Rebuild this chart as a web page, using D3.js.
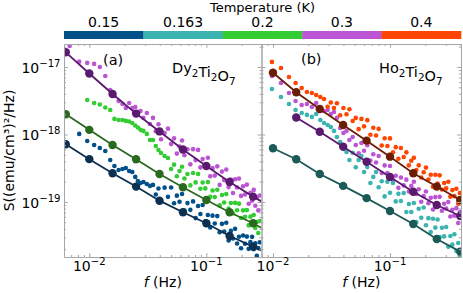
<!DOCTYPE html>
<html>
<head>
<meta charset="utf-8">
<script src="https://cdn.jsdelivr.net/npm/d3@7"></script>
<style>
  body { margin: 0; background: #fff; }
  svg { display: block; }
  text { font-family: "DejaVu Sans", sans-serif; fill: #000; }
</style>
</head>
<body>
<div class="container"></div>
<script>
// temperatures and colours of the colour bar
const temps = ["0.15", "0.163", "0.2", "0.3", "0.4"];
const tempColors = ["#01508a", "#3bb4b1", "#33cc33", "#bb55d3", "#ff4500"];
const fitColors = ["#0d3050", "#1b5a57", "#2a6a1f", "#5a1a6e", "#6b1d05"];

// S values below are in units of 1e-19 (emu/cm^3)^2/Hz
const UNIT = 1e-19;

// (a) Dy2Ti2O7 - measured spectra, f in Hz
const freqA = [0.0068, 0.0082, 0.0096, 0.011, 0.0123, 0.0137, 0.0151, 0.0164, 0.0178, 0.0192,
  0.0205, 0.0219, 0.0233, 0.0247, 0.026, 0.0274, 0.029, 0.031, 0.033, 0.035,
  0.037, 0.039, 0.041, 0.044, 0.047, 0.05, 0.053, 0.056, 0.059, 0.062,
  0.065, 0.069, 0.073, 0.077, 0.081, 0.085, 0.089, 0.093, 0.098, 0.103,
  0.108, 0.113, 0.118, 0.124, 0.13, 0.136, 0.142, 0.148, 0.155, 0.162,
  0.169, 0.176, 0.183, 0.19, 0.198, 0.206, 0.214, 0.222, 0.23, 0.238,
  0.246, 0.254, 0.262, 0.27, 0.278, 0.286];
const dyS030 = [205, 120, 115, 111, 100, 73.6, 45.6, 37.2, 31.3, 28.3,
  24.7, 29.3, 24.7, 25.5, 20.8, 22.3, 17.6, 20.8, 14.3, 17.6,
  11.2, 14.2, 8.5, 10.5, 12.2, 7.2, 8.76, 5.21, 6.62, 8.16,
  4.93, 6.04, 3.61, 6.06, 4.17, 5.91, 3.25, 4.32, 3.41, 4.52,
  2.40, 3.17, 2.46, 3.37, 1.79, 2.82, 2.11, 3.03, 1.66, 2.15,
  1.36, 2.17, 1.64, 2.22, 1.23, 1.71, 1.29, 1.81, 0.94, 1.37,
  1.04, 1.51, 0.88, 1.16, 0.75, 1.25];
const dyS020 = [null, null, 32.4, 29.3, 27.8, 25.1, 23.1, 17.0, 16.4, 16.4,
  15.9, 15.6, 14.8, 13.6, 12.7, 11.7, 11.3, 10.2, 8.30, 8.30,
  6.76, 5.89, 5.32, 4.80, 4.49, 3.08, 3.57, 2.40, 2.87, 3.32,
  2.23, 2.60, 1.76, 2.69, 1.95, 2.60, 1.57, 1.94, 1.59, 1.97,
  1.19, 1.48, 1.18, 1.52, 0.89, 1.27, 0.98, 1.31, 0.80, 0.966,
  0.676, 0.97, 0.753, 0.944, 0.578, 0.75, 0.604, 0.758, 0.45, 0.606,
  0.472, 0.642, 0.412, 0.506, 0.347, 0.523];
const dyS015 = [null, 10.2, 8.02, 6.99, 6.31, 5.70, 4.19, 3.41, 2.98, 3.08,
  3.19, 2.88, 2.78, 2.35, 2.05, 1.91, 1.98, 1.85, 1.73, 1.79,
  1.29, 1.58, 1.01, 1.63, 1.19, 1.64, 0.956, 1.24, 1.01, 1.31,
  0.744, 0.962, 0.764, 1.02, 0.577, 0.873, 0.662, 0.90, 0.518, 0.642,
  0.418, 0.627, 0.479, 0.617, 0.357, 0.474, 0.366, 0.491, 0.269, 0.373,
  0.288, 0.40, 0.242, 0.306, 0.206, 0.319, 0.241, 0.307, 0.202, 0.254,
  0.304, 0.20, 0.245, 0.16, 0.207, 0.253];

// (a) fits: marker frequencies, the line runs on to the right edge
const markFA = [0.0063, 0.01, 0.0158, 0.0251, 0.0398, 0.0631, 0.1, 0.158, 0.251];
const fitFA = markFA.concat([0.296]);
const dyFit030 = [165, 80.1, 39.8, 20.4, 11.1, 6.0, 3.41, 1.98, 1.2, 1.02];
const dyFit020 = [19.9, 11.7, 6.99, 4.3, 2.60, 1.65, 1.07, 0.704, 0.484, 0.412];
const dyFit015 = [7.17, 4.31, 2.66, 1.69, 1.045, 0.704, 0.484, 0.313, 0.218, 0.191];

// (b) Ho2Ti2O7 - measured spectra
const freqB = [0.0098, 0.0117, 0.0137, 0.0156, 0.0176, 0.0195, 0.0215, 0.0234, 0.0254, 0.0273,
  0.0293, 0.0312, 0.0332, 0.0352, 0.0375, 0.04, 0.0425, 0.045, 0.048, 0.051,
  0.054, 0.057, 0.06, 0.064, 0.068, 0.072, 0.076, 0.08, 0.085, 0.09,
  0.095, 0.1, 0.106, 0.112, 0.118, 0.124, 0.131, 0.138, 0.145, 0.152,
  0.16, 0.168, 0.176, 0.185, 0.194, 0.203, 0.213, 0.223, 0.233, 0.244,
  0.255, 0.266, 0.278, 0.29, 0.302, 0.315, 0.328, 0.341, 0.355, 0.369,
  0.383, 0.395];
const hoS040 = [119, 96.6, 71.1, 57.9, 48.8, 42.6, 41.2, 38.5, 35.9, 33.5,
  25.7, 29.7, 24.7, 29.0, 19.3, 24.7, 19.9, 23.6, 15.8, 17.6,
  12.0, 17.0, 13.2, 16.3, 9.91, 12.6, 9.65, 12.1, 6.85, 8.81,
  6.76, 8.75, 5.43, 6.49, 4.37, 6.31, 4.64, 5.43, 3.49, 4.08,
  4.52, 2.98, 3.49, 2.30, 2.76, 3.23, 2.15, 2.53, 1.68, 2.53,
  1.88, 2.48, 1.53, 1.91, 1.59, 1.99, 1.20, 1.50, 1.22, 1.57,
  0.944, 1.36];
const hoS030 = [73.6, 57.9, 41.2, 31.3, 27.4, 28.3, 25.5, 29.3, 23.9, 22.3,
  23.1, 20.1, 21.5, 17.6, 12.5, 10.5, 11.3, 8.30, 9.19, 6.99,
  5.28, 7.46, 5.74, 6.94, 4.11, 5.09, 3.85, 4.79, 2.69, 3.48,
  2.69, 3.42, 2.09, 2.45, 1.62, 2.31, 1.76, 2.14, 1.43, 1.73,
  1.99, 1.31, 1.54, 1.01, 1.22, 1.43, 0.96, 1.15, 0.772, 1.18,
  0.889, 1.19, 0.74, 0.94, 0.80, 1.0, 0.608, 0.767, 0.624, 0.81,
  0.489, 0.711];
const hoS0163 = [47.2, 35.9, 28.3, 23.1, 20.8, 19.5, 18.2, 20.1, 16.4, 14.8,
  13.8, 12.9, 11.3, 9.19, 7.75, 6.10, 5.51, 4.19, 5.37, 3.27,
  4.19, 4.80, 2.78, 3.30, 1.91, 2.35, 2.78, 1.65, 2.03, 1.21,
  2.0, 1.37, 1.91, 1.02, 1.32, 1.035, 1.36, 0.711, 0.934, 0.711,
  0.966, 0.506, 0.793, 0.585, 0.83, 0.452, 0.576, 0.359, 0.564, 0.417,
  0.55, 0.301, 0.415, 0.309, 0.426, 0.217, 0.313, 0.233, 0.333, 0.188,
  0.247, 0.159];

// (b) fits
const markFB = [0.01, 0.0158, 0.0251, 0.0398, 0.0631, 0.1, 0.158, 0.251, 0.398];
const hoFit040 = [82.3, 42.2, 23.9, 13.8, 8.1, 4.69, 2.66, 1.69, 1.07];
const hoFit030 = [null, 17.8, 11.0, 6.6, 3.95, 2.35, 1.42, 0.903, 0.62];
const hoFit0163 = [6.24, 4.3, 2.60, 1.73, 1.14, 0.736, 0.472, 0.283, 0.184];

const W = 463, H = 293;
const TOP = 44, BOTTOM = 257;
const AXIS_COLOR = "#a6a6a6";

const svg = d3.select(".container").append("svg")
  .attr("width", W).attr("height", H).attr("viewBox", [0, 0, W, H]);

const y = d3.scaleLog().domain([1.53e-20, 2.19e-17]).range([BOTTOM, TOP]);
const xA = d3.scaleLog().domain([0.00608, 0.296]).range([64, 261.5]);
const xB = d3.scaleLog().domain([0.00798, 0.4044]).range([261.5, 461]);

const isMajor = (t) => Math.abs(Math.log10(t) - Math.round(Math.log10(t))) < 1e-6;
const pairs = (f, s) => f.map((v, i) => [v, s[i]]).filter((p) => p[1] != null);

function drawPanel(x, id, scatter, fits) {
  const [x0, x1] = x.range();
  svg.append("clipPath").attr("id", id)
    .append("rect").attr("x", x0).attr("y", TOP).attr("width", x1 - x0).attr("height", BOTTOM - TOP);
  const g = svg.append("g").attr("clip-path", `url(#${id})`);

  for (const d of scatter) {
    g.append("g").attr("fill", tempColors[d.t])
      .selectAll("circle")
      .data(pairs(d.f, d.s))
      .join("circle")
      .attr("cx", (p) => x(p[0]))
      .attr("cy", (p) => y(p[1] * UNIT))
      .attr("r", 2.3);
  }
  for (const d of fits) {
    const pts = pairs(d.f, d.s);
    g.append("path").datum(pts)
      .attr("fill", "none")
      .attr("stroke", fitColors[d.t])
      .attr("stroke-width", 1.8)
      .attr("d", d3.line((p) => x(p[0]), (p) => y(p[1] * UNIT)));
    g.append("g").attr("fill", fitColors[d.t])
      .selectAll("circle")
      .data(pairs(d.mark, d.s))
      .join("circle")
      .attr("cx", (p) => x(p[0]))
      .attr("cy", (p) => y(p[1] * UNIT))
      .attr("r", 4.2);
  }
}

function sup(sel, base, exp) {
  sel.append("tspan").text(base);
  sel.append("tspan").attr("dy", -6).attr("font-size", "0.72em").text(exp);
}

function drawAxes(x, yLabels) {
  const [x0, x1] = x.range();
  const xt = x.ticks(), yt = y.ticks();
  const xMaj = xt.filter(isMajor), xMin = xt.filter((t) => !isMajor(t));
  const yMaj = yt.filter(isMajor), yMin = yt.filter((t) => !isMajor(t));
  const style = (g) => g.call((s) => s.selectAll("line,path").attr("stroke", AXIS_COLOR));
  const clean = (g) => g.call((s) => s.select(".domain").remove());

  const sides = [
    [d3.axisBottom(x), `translate(0,${BOTTOM})`, xMaj, xMin],
    [d3.axisTop(x), `translate(0,${TOP})`, xMaj, xMin],
    [d3.axisLeft(y), `translate(${x0},0)`, yMaj, yMin],
    [d3.axisRight(y), `translate(${x1},0)`, yMaj, yMin]
  ];
  for (const [axis, tr, maj, min] of sides) {
    svg.append("g").attr("transform", tr)
      .call(axis.tickValues(min).tickSize(-2).tickSizeOuter(0).tickFormat(""))
      .call(clean).call(style);
    svg.append("g").attr("transform", tr)
      .call(axis.tickValues(maj).tickSize(-3.8).tickSizeOuter(0).tickFormat(""))
      .call(style);
  }

  // x tick labels
  for (const t of xMaj) {
    svg.append("text")
      .attr("x", x(t)).attr("y", 271)
      .attr("text-anchor", "middle").attr("font-size", 14)
      .call(sup, "10", "\u2212" + Math.abs(Math.round(Math.log10(t))));
  }
  if (yLabels) {
    for (const t of yMaj) {
      svg.append("text")
        .attr("x", x0 - 3.5).attr("y", y(t) + 6)
        .attr("text-anchor", "end").attr("font-size", 14)
        .call(sup, "10", "\u2212" + Math.abs(Math.round(Math.log10(t))));
    }
  }
  // axis title
  const xl = svg.append("text")
    .attr("x", (x0 + x1) / 2).attr("y", 287)
    .attr("text-anchor", "middle").attr("font-size", 14);
  xl.append("tspan").attr("font-style", "italic").text("f");
  xl.append("tspan").text(" (Hz)");
}

function chem(sel, parts) {
  for (const [txt, sub] of parts) {
    sel.append("tspan").attr("dy", sub ? 4 : 0).attr("font-size", sub ? "0.72em" : null).text(txt);
    if (sub) sel.append("tspan").attr("dy", -4).text("");
  }
}

drawPanel(xA, "clipA",
  [{ f: freqA, s: dyS030, t: 3 }, { f: freqA, s: dyS020, t: 2 }, { f: freqA, s: dyS015, t: 0 }],
  [{ f: fitFA, mark: markFA, s: dyFit030, t: 3 },
   { f: fitFA, mark: markFA, s: dyFit020, t: 2 },
   { f: fitFA, mark: markFA, s: dyFit015, t: 0 }]);

drawPanel(xB, "clipB",
  [{ f: freqB, s: hoS030, t: 3 }, { f: freqB, s: hoS040, t: 4 }, { f: freqB, s: hoS0163, t: 1 }],
  [{ f: markFB, mark: markFB, s: hoFit040, t: 4 },
   { f: markFB, mark: markFB, s: hoFit030, t: 3 },
   { f: markFB, mark: markFB, s: hoFit0163, t: 1 }]);

drawAxes(xA, true);
drawAxes(xB, false);

// panel labels
svg.append("text").attr("x", 103).attr("y", 65).attr("font-size", 14.5).text("(a)");
svg.append("text").attr("x", 301).attr("y", 64).attr("font-size", 14.5).text("(b)");
svg.append("text").attr("x", 172).attr("y", 73).attr("font-size", 14.5)
  .call(chem, [["Dy", 0], ["2", 1], ["Ti", 0], ["2", 1], ["O", 0], ["7", 1]]);
svg.append("text").attr("x", 379).attr("y", 73).attr("font-size", 14.5)
  .call(chem, [["Ho", 0], ["2", 1], ["Ti", 0], ["2", 1], ["O", 0], ["7", 1]]);

// y axis title
svg.append("text")
  .attr("transform", `translate(14,${(TOP + BOTTOM) / 2}) rotate(-90)`)
  .attr("text-anchor", "middle").attr("font-size", 14)
  .text("S((emu/cm\u00b3)\u00b2/Hz)");

// colour bar
const cb = d3.scaleBand().domain(temps).range([64, 461]);
svg.append("g").selectAll("rect")
  .data(temps)
  .join("rect")
  .attr("x", (d) => cb(d))
  .attr("y", 31)
  .attr("width", cb.bandwidth() + 0.3)
  .attr("height", 8)
  .attr("fill", (d, i) => tempColors[i]);
svg.append("g").selectAll("text")
  .data(temps)
  .join("text")
  .attr("x", (d) => cb(d) + cb.bandwidth() / 2)
  .attr("y", 26.5)
  .attr("text-anchor", "middle")
  .attr("font-size", 14)
  .text((d) => d);
svg.append("text")
  .attr("x", 262.5).attr("y", 11.5)
  .attr("text-anchor", "middle").attr("font-size", 13)
  .text("Temperature (K)");
</script>
</body>
</html>
